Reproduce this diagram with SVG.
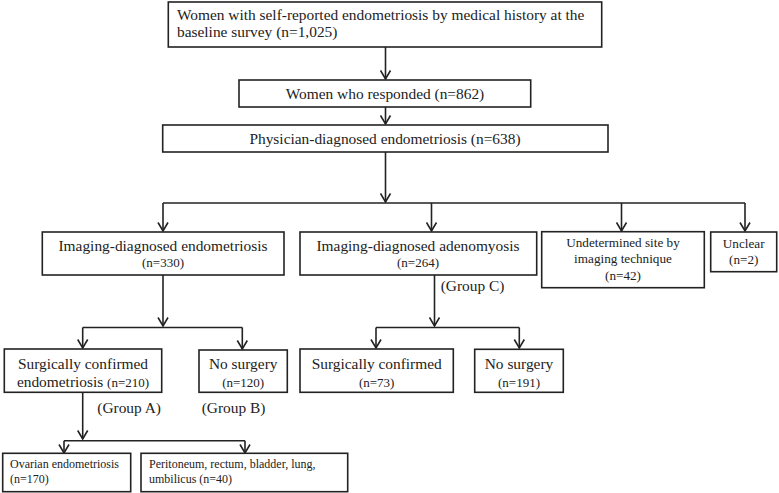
<svg xmlns="http://www.w3.org/2000/svg" width="779" height="493" viewBox="0 0 779 493">
<defs>
<marker id="arr" viewBox="-1 -6 11 12" refX="8.5" refY="0" markerWidth="11" markerHeight="12" markerUnits="userSpaceOnUse" orient="auto">
<path d="M0,-5 L8.5,0 L0,5" fill="none" stroke="#222" stroke-width="1.6"/>
</marker>
<style>
.box{fill:#fff;stroke:#222;stroke-width:1.6}
.t{font-family:"Liberation Serif","Times New Roman",serif;fill:#222;font-size:15.4px}
.s{font-size:13px}
.m{font-size:13.2px}
.xs{font-size:12px}
.c{text-anchor:middle}
.ln{fill:none;stroke:#222;stroke-width:1.6}
</style>
</defs>
<rect width="779" height="493" fill="#fff"/>
<g id="connectors">
<path class="ln" d="M385.5,47 V79" marker-end="url(#arr)"/>
<path class="ln" d="M385.5,107 V124" marker-end="url(#arr)"/>
<path class="ln" d="M385.5,152 V202" marker-end="url(#arr)"/>
<path class="ln" d="M163,203 H745"/>
<path class="ln" d="M163,203 V231" marker-end="url(#arr)"/>
<path class="ln" d="M431.5,203 V231" marker-end="url(#arr)"/>
<path class="ln" d="M621.5,203 V231" marker-end="url(#arr)"/>
<path class="ln" d="M745,203 V231" marker-end="url(#arr)"/>
<path class="ln" d="M163,275 V326" marker-end="url(#arr)"/>
<path class="ln" d="M82.7,327.5 H242.3"/>
<path class="ln" d="M82.7,327.5 V348" marker-end="url(#arr)"/>
<path class="ln" d="M242.3,327.5 V349" marker-end="url(#arr)"/>
<path class="ln" d="M434.5,275 V326" marker-end="url(#arr)"/>
<path class="ln" d="M376,327.5 H519.3"/>
<path class="ln" d="M376,327.5 V348" marker-end="url(#arr)"/>
<path class="ln" d="M519.3,327.5 V348" marker-end="url(#arr)"/>
<path class="ln" d="M82.7,392 V439" marker-end="url(#arr)"/>
<path class="ln" d="M64,440.7 H245"/>
<path class="ln" d="M64,440.7 V453" marker-end="url(#arr)"/>
<path class="ln" d="M245,440.7 V453" marker-end="url(#arr)"/>
</g>
<g id="n-baseline">
<rect class="box" x="168.3" y="2" width="433.4" height="45"/>
<text class="t" x="177" y="20">Women with self-reported endometriosis by medical history at the</text>
<text class="t" x="177" y="37">baseline survey (n=1,025)</text>
</g>
<g id="n-responded">
<rect class="box" x="239" y="80" width="291.7" height="27"/>
<text class="t c" x="385" y="99">Women who responded (n=862)</text>
</g>
<g id="n-physician">
<rect class="box" x="162.7" y="125" width="445.3" height="27"/>
<text class="t c" x="385" y="144">Physician-diagnosed endometriosis (n=638)</text>
</g>
<g id="n-img-endo">
<rect class="box" x="42.3" y="232" width="241.7" height="43"/>
<text class="t c" x="163" y="251">Imaging-diagnosed endometriosis</text>
<text class="t s c" x="163" y="267">(n=330)</text>
</g>
<g id="n-img-adeno">
<rect class="box" x="300" y="232" width="236.7" height="43"/>
<text class="t c" x="418" y="251">Imaging-diagnosed adenomyosis</text>
<text class="t s c" x="418" y="267">(n=264)</text>
<text class="t" x="440.7" y="291">(Group C)</text>
</g>
<g id="n-undetermined">
<rect class="box" x="541.7" y="231.7" width="162.6" height="56"/>
<text class="t m c" x="623" y="247">Undetermined site by</text>
<text class="t m c" x="623" y="263">imaging technique</text>
<text class="t m c" x="623" y="280">(n=42)</text>
</g>
<g id="n-unclear">
<rect class="box" x="710.7" y="232" width="66" height="39.7"/>
<text class="t m c" x="743.7" y="248">Unclear</text>
<text class="t m c" x="743.7" y="264">(n=2)</text>
</g>
<g id="n-surg-endo">
<rect class="box" x="4.3" y="349" width="157.4" height="43.3"/>
<text class="t c" x="83" y="369">Surgically confirmed</text>
<text class="t c" x="83" y="387">endometriosis <tspan class="s">(n=210)</tspan></text>
<text class="t" x="97.3" y="413">(Group A)</text>
</g>
<g id="n-nosurg-endo">
<rect class="box" x="199" y="350" width="88.3" height="42.3"/>
<text class="t c" x="243.2" y="369">No surgery</text>
<text class="t s c" x="243.2" y="387">(n=120)</text>
<text class="t" x="201.7" y="413">(Group B)</text>
</g>
<g id="n-surg-adeno">
<rect class="box" x="300" y="349" width="153.3" height="43.3"/>
<text class="t c" x="376.7" y="369">Surgically confirmed</text>
<text class="t s c" x="376.7" y="387">(n=73)</text>
</g>
<g id="n-nosurg-adeno">
<rect class="box" x="474.7" y="349.3" width="88.6" height="43"/>
<text class="t c" x="519" y="369">No surgery</text>
<text class="t s c" x="519" y="387">(n=191)</text>
</g>
<g id="n-ovarian">
<rect class="box" x="2.7" y="453.3" width="128" height="38.4"/>
<text class="t xs" x="10" y="468.3">Ovarian endometriosis</text>
<text class="t xs" x="10" y="483.3">(n=170)</text>
</g>
<g id="n-peritoneum">
<rect class="box" x="141" y="453.3" width="206.7" height="38.4"/>
<text class="t xs" x="149" y="468.3">Peritoneum, rectum, bladder, lung,</text>
<text class="t xs" x="149" y="483.3">umbilicus (n=40)</text>
</g>
</svg>
